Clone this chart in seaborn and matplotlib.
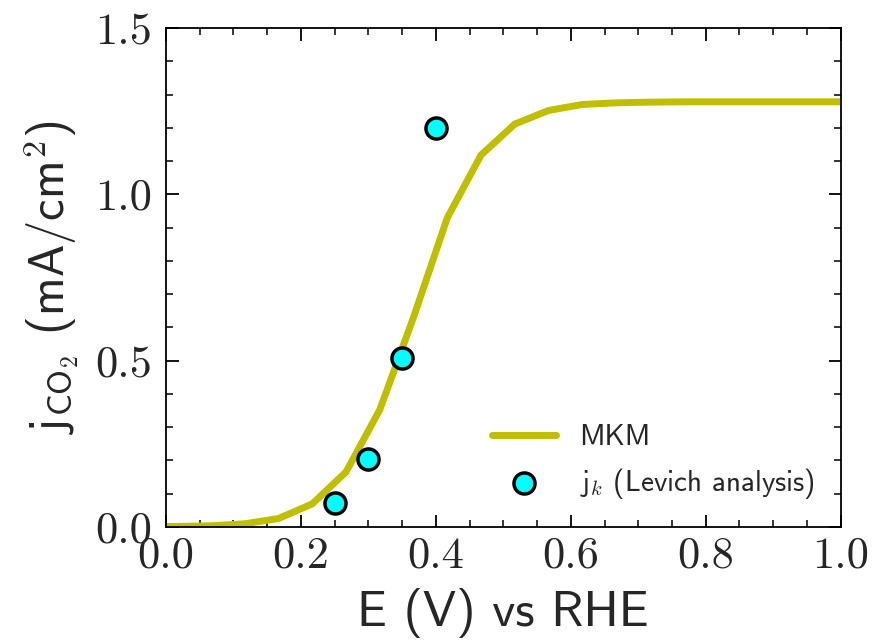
import matplotlib
matplotlib.use("Agg")
import matplotlib.pyplot as plt
import seaborn as sns
import pandas as pd
from matplotlib.ticker import MultipleLocator, FormatStrFormatter

# MKM model curve
mkm_E = [0.0, 0.017, 0.067, 0.117, 0.167, 0.217, 0.267, 0.317, 0.367, 0.417,
         0.467, 0.517, 0.567, 0.617, 0.667, 0.717, 0.767, 0.817, 0.867, 0.917,
         0.967, 1.0]
mkm_j = [0.001, 0.001, 0.003, 0.009, 0.025, 0.069, 0.165, 0.352, 0.63, 0.929,
         1.118, 1.211, 1.252, 1.270, 1.275, 1.277, 1.278, 1.278, 1.278, 1.278,
         1.278, 1.278]

# Levich analysis points
lev_E = [0.25, 0.30, 0.35, 0.40]
lev_j = [0.072, 0.204, 0.508, 1.199]

sns.set_style("ticks")
plt.rcParams["mathtext.fontset"] = "cm"
plt.rcParams["axes.formatter.use_mathtext"] = True
plt.rcParams["font.family"] = ["cmss10", "DejaVu Sans"]

fig = plt.figure(figsize=(8.73, 6.44), dpi=100)
ax = fig.add_axes([0.190, 0.182, 0.773, 0.7745])

df_line = pd.DataFrame({"E": mkm_E, "j": mkm_j})
df_pts = pd.DataFrame({"E": lev_E, "j": lev_j})

sns.lineplot(data=df_line, x="E", y="j", ax=ax, color=(0.75, 0.75, 0.0),
             linewidth=5, label="MKM", clip_on=True)
sns.scatterplot(data=df_pts, x="E", y="j", ax=ax, color="#00ffff",
                edgecolor="black", linewidth=2.5, s=230, zorder=5,
                label=r"j$_{k}$ (Levich analysis)", clip_on=False)

ax.set_xlim(0, 1.0)
ax.set_ylim(0, 1.5)
ax.xaxis.set_major_locator(MultipleLocator(0.2))
ax.xaxis.set_minor_locator(MultipleLocator(0.05))
ax.yaxis.set_major_locator(MultipleLocator(0.5))
ax.yaxis.set_minor_locator(MultipleLocator(0.1))
ax.xaxis.set_major_formatter(FormatStrFormatter("%.1f"))
ax.yaxis.set_major_formatter(FormatStrFormatter("%.1f"))

ax.tick_params(which="both", direction="in", top=True, right=True, color="black")
ax.tick_params(which="major", length=9, width=1.3, labelsize=32)
ax.tick_params(axis="x", which="major", pad=7)
ax.tick_params(axis="y", which="major", pad=10)
ax.tick_params(which="minor", length=5, width=1.1)
for lab in ax.get_xticklabels() + ax.get_yticklabels():
    lab.set_fontfamily(["cmr10", "DejaVu Serif"])

for sp in ax.spines.values():
    sp.set_linewidth(1.3)
    sp.set_color("black")

ax.set_xlabel("E (V) vs RHE", fontsize=36, labelpad=8)
ax.set_ylabel(r"j$_{\mathsf{CO}_\mathsf{2}}$ (mA/cm$^\mathsf{2}$)", fontsize=35,
              labelpad=10)

leg = ax.legend(loc="lower right", frameon=False, fontsize=21,
                handlelength=2.2, borderaxespad=0.5, labelspacing=0.5,
                bbox_to_anchor=(1.0, 0.0))

fig.savefig("out.png", dpi=100)
